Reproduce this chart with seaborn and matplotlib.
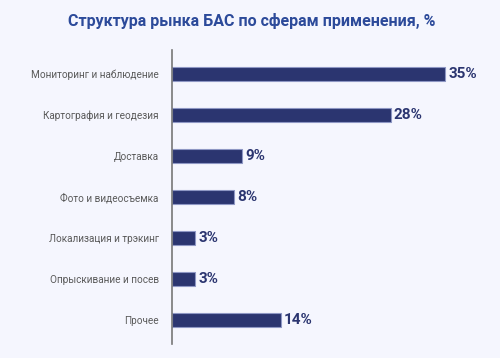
import matplotlib.pyplot as plt
import pandas as pd
import seaborn as sns

categories = ['Мониторинг и наблюдение', 'Картография и геодезия', 'Доставка',
              'Фото и видеосъемка', 'Локализация и трэкинг', 'Опрыскивание и посев', 'Прочее']
shares = [35, 28, 9, 8, 3, 3, 14]

df = pd.DataFrame({'category': categories, 'share': shares})

bg = '#f5f6fe'
navy = '#2b3570'

sns.set_theme(style='white')
plt.rcParams['font.family'] = ['Roboto', 'DejaVu Sans']

fig = plt.figure(figsize=(5, 3.58), dpi=100, facecolor=bg)
ax = fig.add_axes([0.344, 0.039, 0.656, 0.821], facecolor=bg)

sns.barplot(data=df, x='share', y='category', orient='h', color=navy,
            width=0.34, edgecolor='#8e97c4', linewidth=0.8, saturation=1, ax=ax)

for i, v in enumerate(shares):
    ax.text(v + 0.35, i, f'{v}%', va='center', ha='left', fontsize=11,
            fontweight='bold', color=navy)

ax.set_xlim(0, 42)
ax.set_ylim(6.59, -0.58)
ax.set_xlabel('')
ax.set_ylabel('')
ax.set_xticks([])
ax.tick_params(axis='y', length=0, pad=9.5, labelsize=7.2, labelcolor='#5a5a5a')
for s in ['top', 'right', 'bottom']:
    ax.spines[s].set_visible(False)
ax.spines['left'].set_color('#777777')
ax.spines['left'].set_linewidth(1.2)

fig.text(0.504, 0.942, 'Структура рынка БАС по сферам применения, %', ha='center',
         va='center', fontsize=11.5, fontweight='bold', color='#2c4a9a')

fig.savefig('out.png', dpi=100, facecolor=bg)
